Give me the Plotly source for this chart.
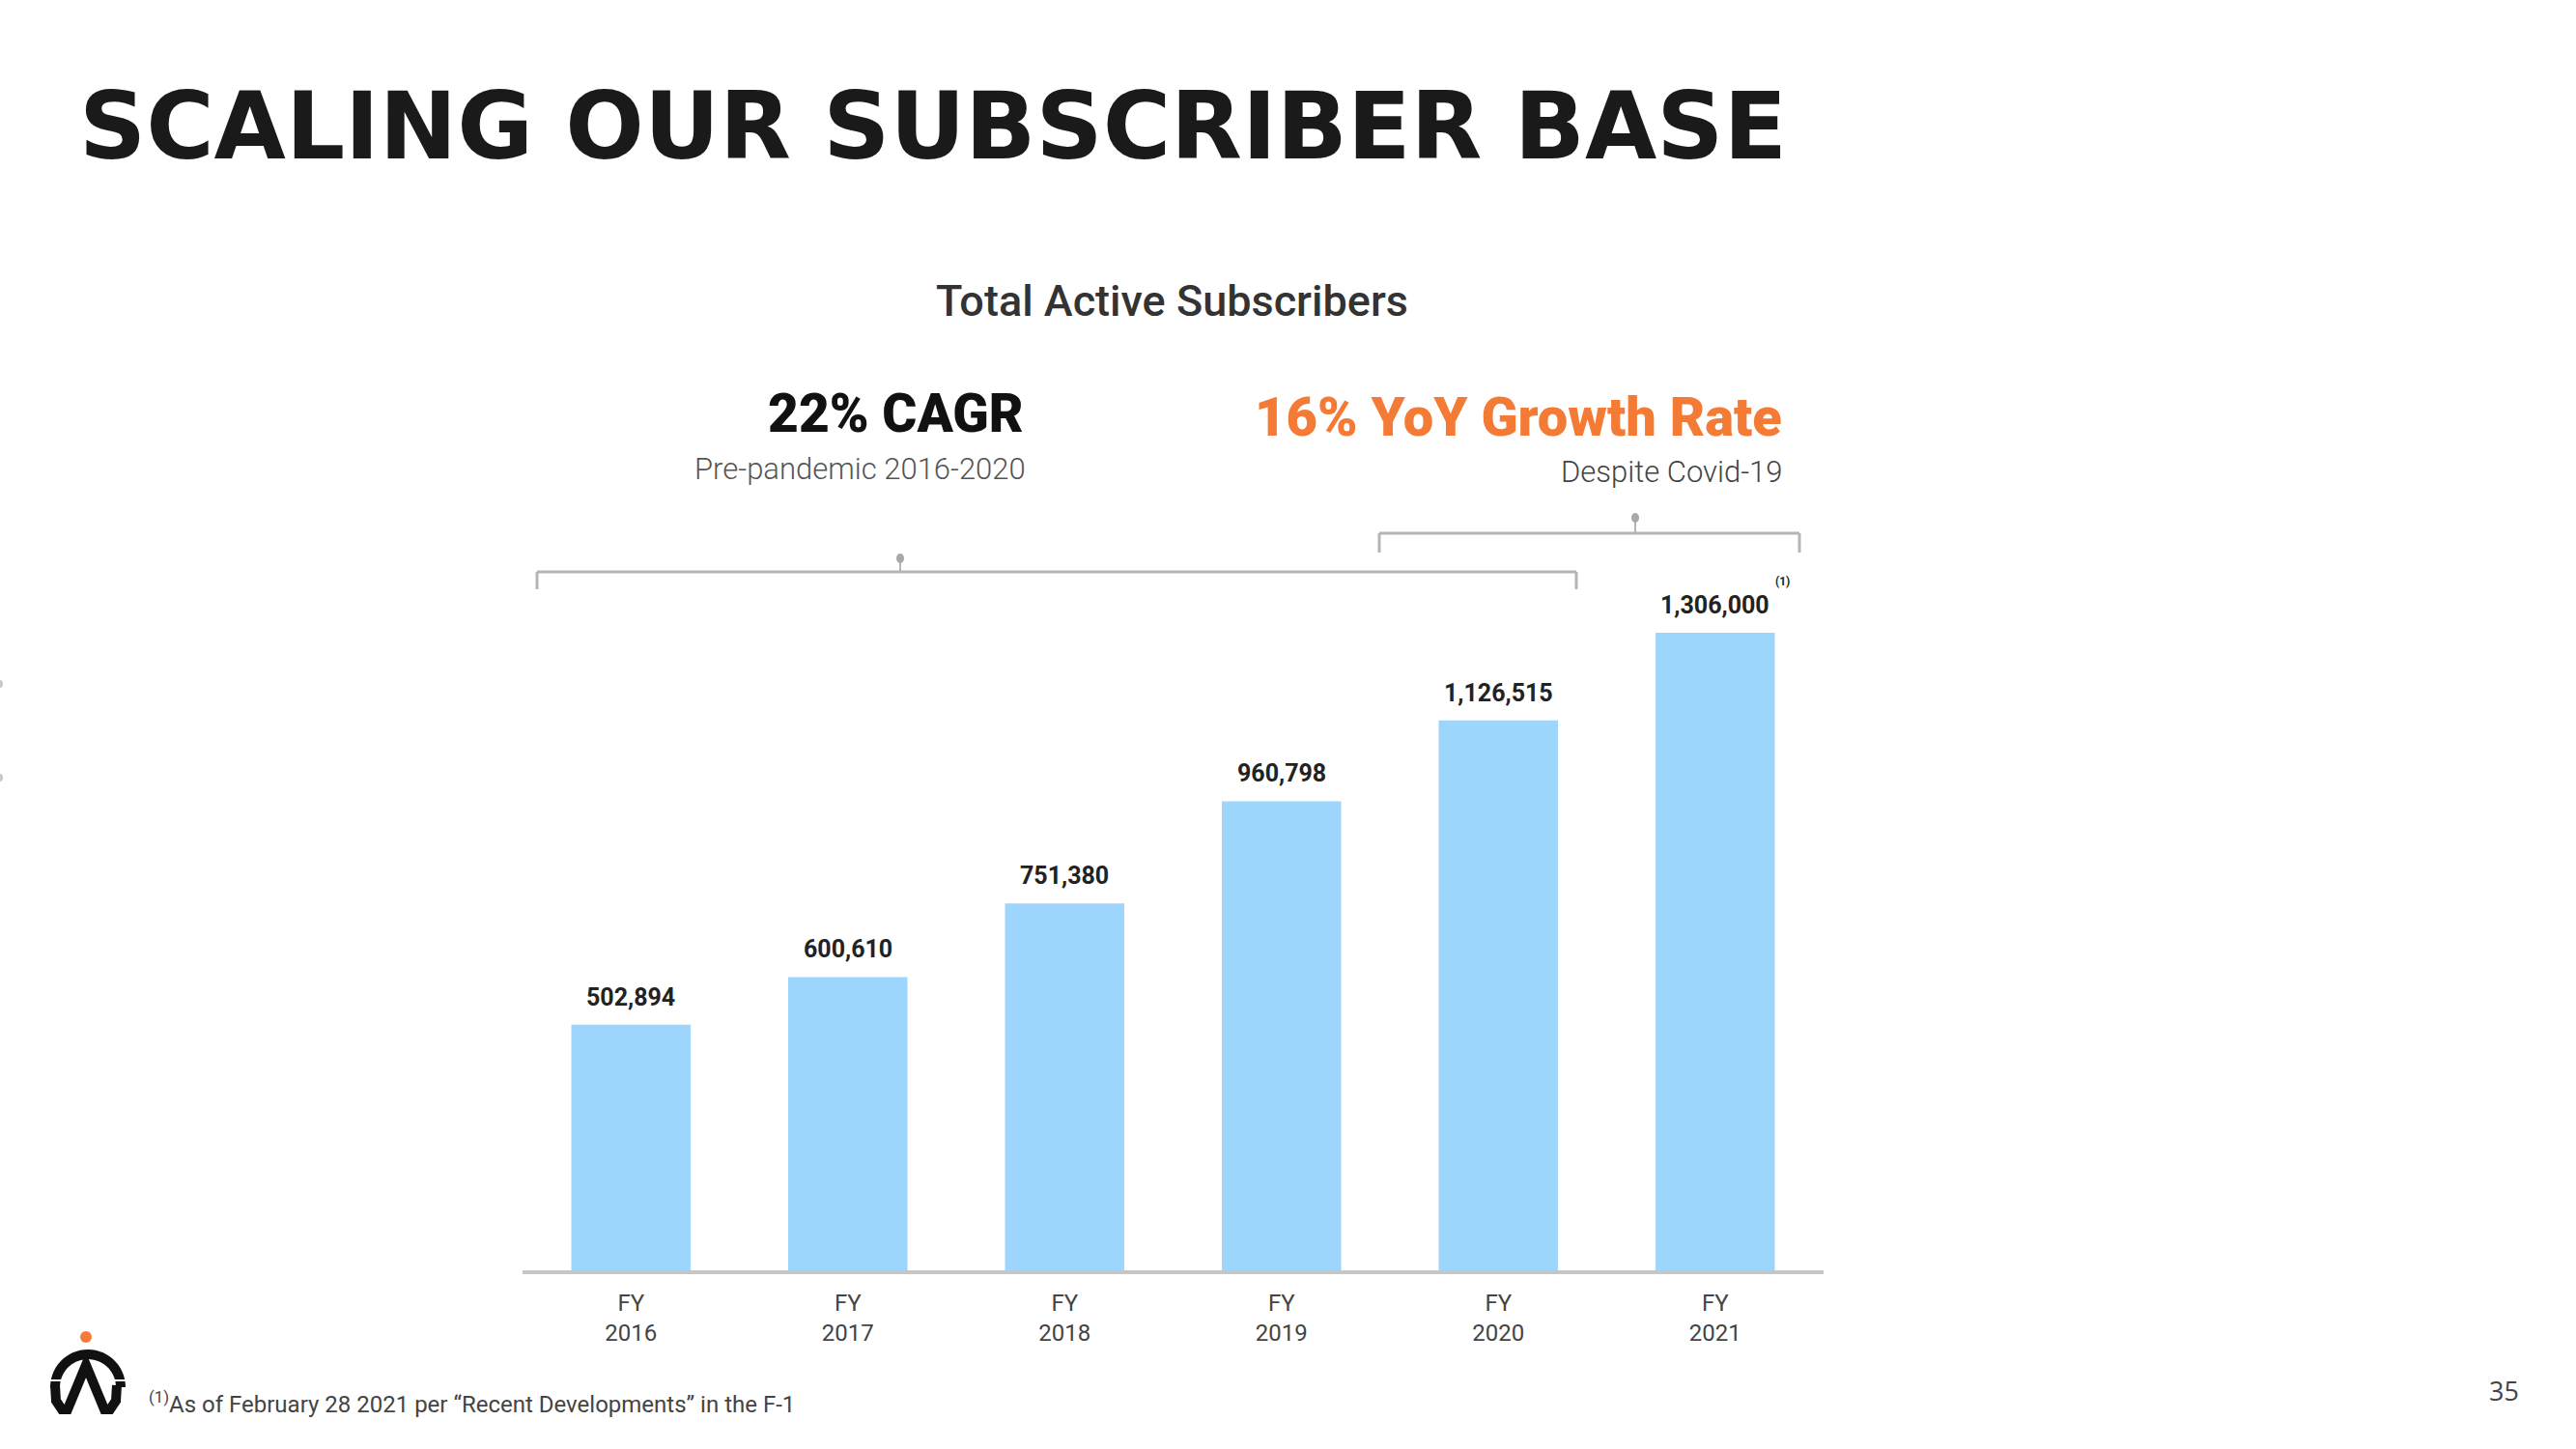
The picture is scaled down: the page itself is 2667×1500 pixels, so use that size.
import math
import plotly.graph_objects as go

# ---- data ----
categories = ["FY<br>2016", "FY<br>2017", "FY<br>2018", "FY<br>2019", "FY<br>2020", "FY<br>2021"]
subscribers = [502894, 600610, 751380, 960798, 1126515, 1306000]

title_text = "SCALING OUR SUBSCRIBER BASE"
chart_title = "Total Active Subscribers"
cagr_text = "22% CAGR"
cagr_sub = "Pre-pandemic 2016-2020"
yoy_text = "16% YoY Growth Rate"
yoy_sub = "Despite Covid-19"
footnote = "<sup>(1)</sup>As of February 28 2021 per \u201cRecent Developments\u201d in the F-1"
page_no = "35"

# ---- layout geometry (pixels) ----
W, H = 2667, 1500
L, R, T, B = 541, 779, 557, 185
PW, PH = W - L - R, H - T - B


def px(x):
    return (x - L) / PW


def py(y):
    return (H - B - y) / PH


BAR = "#9DD5FC"
ORANGE = "#F47B36"
GRAY = "#B5B5B5"

fig = go.Figure()
fig.add_trace(go.Bar(
    x=list(range(len(categories))),
    y=subscribers,
    marker=dict(color=BAR, line=dict(width=0)),
    width=0.55,
    hoverinfo="skip",
))

shapes = []


def bracket(x0, x1, yh, ylow, xs, ydot):
    line = dict(color=GRAY, width=3)
    shapes.append(dict(type="line", xref="paper", yref="paper", x0=px(x0), x1=px(x1), y0=py(yh), y1=py(yh), line=line))
    shapes.append(dict(type="line", xref="paper", yref="paper", x0=px(x0), x1=px(x0), y0=py(yh), y1=py(ylow), line=line))
    shapes.append(dict(type="line", xref="paper", yref="paper", x0=px(x1), x1=px(x1), y0=py(yh), y1=py(ylow), line=line))
    shapes.append(dict(type="line", xref="paper", yref="paper", x0=px(xs), x1=px(xs), y0=py(yh), y1=py(ydot), line=dict(color=GRAY, width=2)))
    r = 4
    shapes.append(dict(type="circle", xref="paper", yref="paper", x0=px(xs - r), x1=px(xs + r),
                       y0=py(ydot - r - 1), y1=py(ydot + r + 1), fillcolor="#A8A8A8", line=dict(width=0)))


bracket(556, 1632, 592, 610, 932, 578)
bracket(1428, 1863, 552, 572, 1693, 536)


# ---- logo ----
def pts(points):
    return "M " + " L ".join(f"{px(x):.5f},{py(y):.5f}" for x, y in points)


cx, cy = 91, 1436
ro, ri = 39, 29
arch = []
for i in range(0, 181, 6):
    a = math.radians(180 - i)
    arch.append((cx + ro * math.cos(a), cy - ro * math.sin(a)))
for i in range(0, 181, 6):
    a = math.radians(i)
    arch.append((cx + ri * math.cos(a), cy - ri * math.sin(a)))
shapes.append(dict(type="path", xref="paper", yref="paper", path=pts(arch) + " Z",
                   fillcolor="#111111", line=dict(width=0)))
w_pts = [(57, 1434), (58, 1450), (64, 1459), (70, 1459), (89, 1413), (108, 1459), (114, 1459), (120, 1450), (121, 1434)]
shapes.append(dict(type="path", xref="paper", yref="paper", path=pts(w_pts),
                   line=dict(color="#111111", width=10)))
shapes.append(dict(type="path", xref="paper", yref="paper",
                   path=pts([(89, 1406), (96, 1420), (82, 1420)]) + " Z",
                   fillcolor="#111111", line=dict(width=0)))
shapes.append(dict(type="line", xref="paper", yref="paper", x0=px(48), x1=px(66), y0=py(1429), y1=py(1429),
                   line=dict(color="white", width=2)))
shapes.append(dict(type="line", xref="paper", yref="paper", x0=px(116), x1=px(134), y0=py(1429), y1=py(1429),
                   line=dict(color="white", width=2)))
shapes.append(dict(type="circle", xref="paper", yref="paper", x0=px(83), x1=px(95), y0=py(1378), y1=py(1390),
                   fillcolor=ORANGE, line=dict(width=0)))
# faint edge marks
for yy in (708, 805):
    shapes.append(dict(type="circle", xref="paper", yref="paper", x0=px(-3), x1=px(3), y0=py(yy - 4), y1=py(yy + 4),
                       fillcolor="#C8C8C8", line=dict(width=0)))

annotations = [
    dict(text=title_text, x=px(80), y=py(131), xanchor="left", yanchor="middle",
         font=dict(family="DejaVu Sans", size=96, color="#1A1A1A", weight=700)),
    dict(text=chart_title, x=px(1213), y=py(311), xanchor="center", yanchor="middle",
         font=dict(family="Roboto", size=45, color="#333333", weight=500)),
    dict(text=cagr_text, x=px(927), y=py(428), xanchor="center", yanchor="middle",
         font=dict(family="Roboto", size=55, color="#111111", weight=900)),
    dict(text=cagr_sub, x=px(890), y=py(485), xanchor="center", yanchor="middle",
         font=dict(family="Roboto", size=31, color="#555555", weight=300)),
    dict(text=yoy_text, x=px(1847), y=py(432), xanchor="right", yanchor="middle",
         font=dict(family="Roboto", size=56, color=ORANGE, weight=900)),
    dict(text=yoy_sub, x=px(1847), y=py(488), xanchor="right", yanchor="middle",
         font=dict(family="Roboto", size=31, color="#444444", weight=300)),
    dict(text="(1)", xref="x", yref="y", x=5, y=subscribers[5], xshift=70, yshift=53,
         xanchor="center", yanchor="middle",
         font=dict(family="Roboto", size=12, color="#222222", weight=700)),
    dict(text=footnote, x=px(152), y=py(1452), xanchor="left", yanchor="middle",
         font=dict(family="Roboto", size=24, color="#444444")),
    dict(text=page_no, x=px(2592), y=py(1439), xanchor="center", yanchor="middle",
         font=dict(family="Open Sans", size=27, color="#444444")),
]
for i, v in enumerate(subscribers):
    annotations.append(dict(text=f"{v:,}", xref="x", yref="y", x=i, y=v, yshift=12,
                            xanchor="center", yanchor="bottom",
                            font=dict(family="Roboto", size=25, color="#222222", weight=700)))
for a in annotations:
    a.setdefault("xref", "paper")
    a.setdefault("yref", "paper")
    a["showarrow"] = False

fig.update_layout(
    width=W, height=H,
    margin=dict(l=L, r=R, t=T, b=B, pad=0),
    paper_bgcolor="white", plot_bgcolor="white",
    showlegend=False,
    bargap=0.45,
    shapes=shapes,
    annotations=annotations,
    xaxis=dict(
        tickmode="array", tickvals=list(range(len(categories))), ticktext=categories,
        range=[-0.5, len(categories) - 0.5],
        showline=True, linecolor="#C6C6C6", linewidth=4,
        showgrid=False, zeroline=False, ticks="", ticklabelstandoff=9,
        tickfont=dict(family="Roboto", size=24, color="#444444"),
        fixedrange=True,
    ),
    yaxis=dict(range=[0, 1500000], visible=False, showgrid=False, zeroline=False, fixedrange=True),
)

fig.write_html("out.html")
